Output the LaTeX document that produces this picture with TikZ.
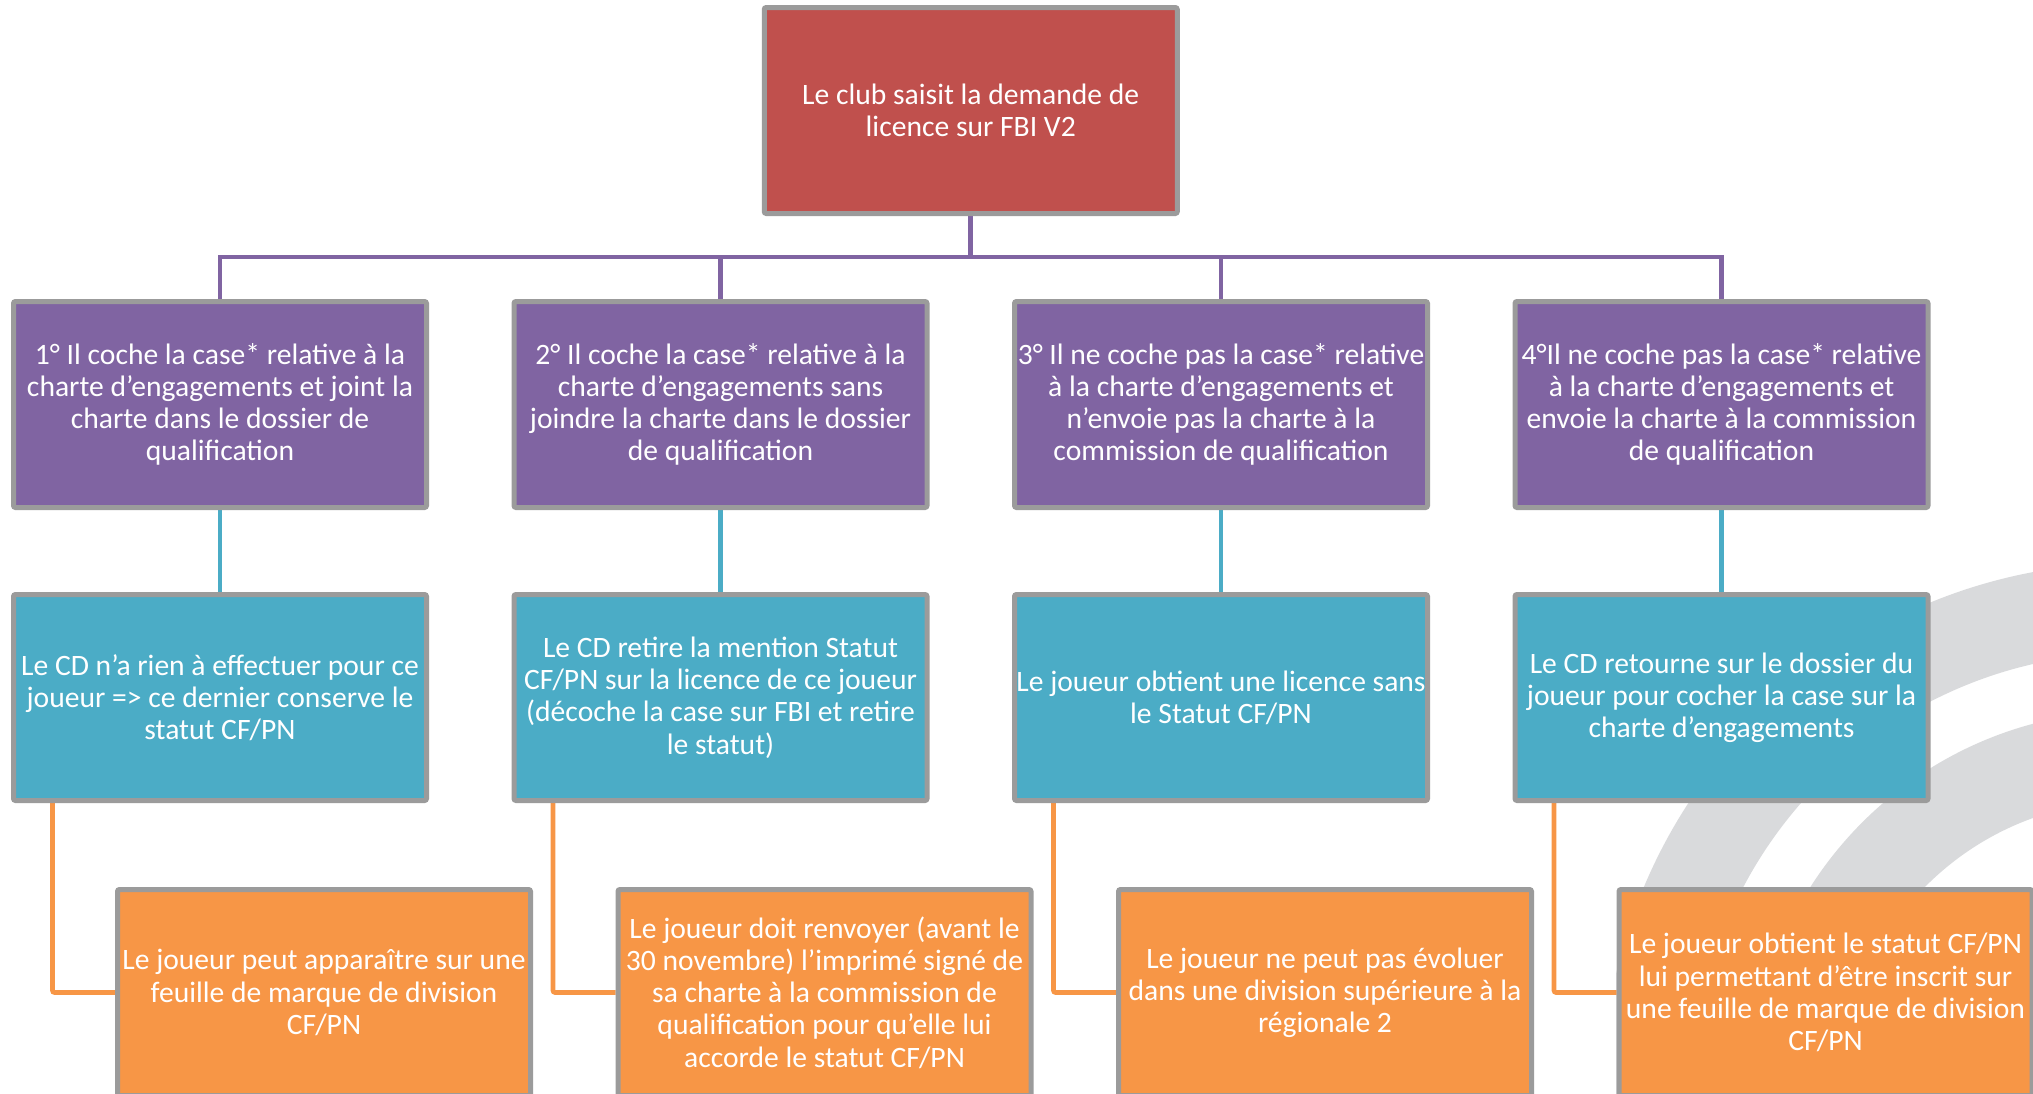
\documentclass[tikz,border=0pt]{standalone}
\usepackage{fontspec}
\setmainfont{Carlito}
\usetikzlibrary{backgrounds}
\definecolor{cred}{RGB}{192,80,77}
\definecolor{cpurple}{RGB}{128,100,162}
\definecolor{cteal}{RGB}{75,172,198}
\definecolor{corange}{RGB}{247,150,70}
\definecolor{cborder}{RGB}{155,155,155}
\definecolor{cwm}{RGB}{217,218,220}
\begin{document}
\begin{tikzpicture}[x=0.5pt,y=-0.5pt,
 box/.style={draw=cborder, line width=2.5pt, minimum width=206.5pt, minimum height=103pt, inner sep=0pt, align=center, text=white, font=\fontsize{14.8}{16.1}\selectfont, rounded corners=1pt},
 redbox/.style={box, fill=cred},
 purplebox/.style={box, fill=cpurple},
 tealbox/.style={box, fill=cteal},
 orangebox/.style={box, fill=corange},
 pline/.style={draw=cpurple, line width=2.3pt},
 tline/.style={draw=cteal, line width=2.3pt},
 oline/.style={draw=corange, line width=2.3pt, rounded corners=1pt},
]
\useasboundingbox (0,0) rectangle (2033,1093);
\clip (0,0) rectangle (2033,1093);

\node[redbox] (top) at (970.75,110.5) {Le club saisit la demande de\\licence sur FBI V2};

\node[purplebox] (p1) at (220,404.5) {1° Il coche la case* relative à la\\charte d’engagements et joint la\\charte dans le dossier de\\qualification};
\node[purplebox] (p2) at (720.5,404.5) {2° Il coche la case* relative à la\\charte d’engagements sans\\joindre la charte dans le dossier\\de qualification};
\node[purplebox] (p3) at (1221,404.5) {3° Il ne coche pas la case* relative\\à la charte d’engagements et\\n’envoie pas la charte à la\\commission de qualification};
\node[purplebox] (p4) at (1721.5,404.5) {4°Il ne coche pas la case* relative\\à la charte d’engagements et\\envoie la charte à la commission\\de qualification};

\node[tealbox] (t1) at (220,697.5) {Le CD n’a rien à effectuer pour ce\\joueur => ce dernier conserve le\\statut CF/PN};
\node[tealbox] (t2) at (720.5,697.5) {Le CD retire la mention Statut\\CF/PN sur la licence de ce joueur\\(décoche la case sur FBI et retire\\le statut)};
\node[tealbox] (t3) at (1221,697.5) {Le joueur obtient une licence sans\\le Statut CF/PN};
\node[tealbox] (t4) at (1721.5,697.5) {Le CD retourne sur le dossier du\\joueur pour cocher la case sur la\\charte d’engagements};

\node[orangebox] (o1) at (324,992.5) {Le joueur peut apparaître sur une\\feuille de marque de division\\CF/PN};
\node[orangebox] (o2) at (824.5,992.5) {Le joueur doit renvoyer (avant le\\30 novembre) l’imprimé signé de\\sa charte à la commission de\\qualification pour qu’elle lui\\accorde le statut CF/PN};
\node[orangebox] (o3) at (1325,992.5) {Le joueur ne peut pas évoluer\\dans une division supérieure à la\\régionale 2};
\node[orangebox] (o4) at (1825.5,992.5) {Le joueur obtient le statut CF/PN\\lui permettant d’être inscrit sur\\une feuille de marque de division\\CF/PN};

\begin{scope}[on background layer]
 \begin{scope}
  \clip (1616,0) rectangle (2033,1093);
  \fill[cwm, even odd rule] (2131,1091) circle[radius=264pt] (2131,1091) circle[radius=219pt];
  \fill[cwm, even odd rule] (2131,1091) circle[radius=190pt] (2131,1091) circle[radius=145pt];
 \end{scope}
 \coordinate (bus) at (970.75,257);
 \draw[pline] (top.south) -- (bus);
 \foreach \i in {1,...,4} \draw[pline] (bus) -| (p\i.north);
 \foreach \i in {1,...,4} \draw[tline] (p\i.south) -- (t\i.north);
 \foreach \i in {1,...,4} \draw[oline] ([xshift=20.75pt]t\i.south west) |- (o\i.west);
\end{scope}
\end{tikzpicture}
\end{document}
